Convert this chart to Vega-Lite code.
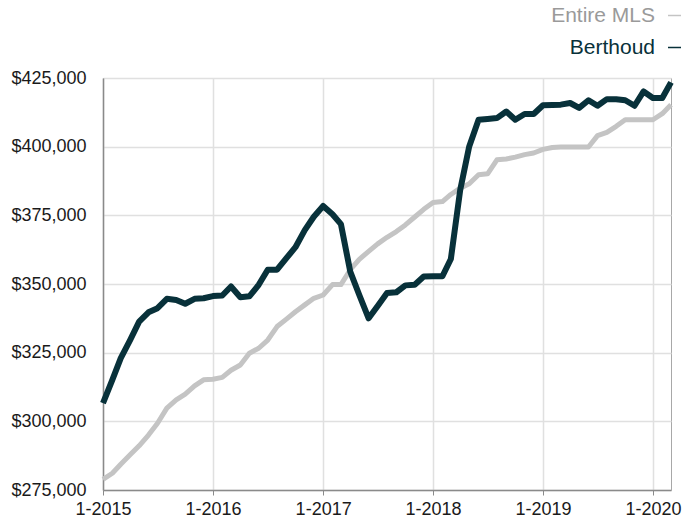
{
  "$schema": "https://vega.github.io/schema/vega-lite/v6.json",
  "width": 568,
  "height": 412,
  "autosize": {"type": "none"},
  "padding": {"left": 103, "top": 78, "right": 16, "bottom": 33},
  "background": "white",
  "config": {
    "font": "Liberation Sans",
    "view": {"stroke": "#a8a8a8", "strokeWidth": 1},
    "axis": {
      "labelFont": "Liberation Sans",
      "labelFontSize": 18,
      "labelColor": "#1a1a1a",
      "gridColor": "#e0e0e0",
      "gridWidth": 1.5,
      "domainColor": "#8a8a8a",
      "domainWidth": 1.5,
      "tickColor": "#8a8a8a",
      "title": null
    }
  },
  "data": {
    "values": [
      {"month": "2015-01-01", "berthoud": 306600, "mls": 278900},
      {"month": "2015-02-01", "berthoud": 315100, "mls": 281100},
      {"month": "2015-03-01", "berthoud": 323000, "mls": 284400},
      {"month": "2015-04-01", "berthoud": 329600, "mls": 287800},
      {"month": "2015-05-01", "berthoud": 336300, "mls": 291100},
      {"month": "2015-06-01", "berthoud": 339700, "mls": 295000},
      {"month": "2015-07-01", "berthoud": 341200, "mls": 299300},
      {"month": "2015-08-01", "berthoud": 344600, "mls": 304800},
      {"month": "2015-09-01", "berthoud": 344200, "mls": 307800},
      {"month": "2015-10-01", "berthoud": 342800, "mls": 309900},
      {"month": "2015-11-01", "berthoud": 344600, "mls": 312900},
      {"month": "2015-12-01", "berthoud": 344800, "mls": 315100},
      {"month": "2016-01-01", "berthoud": 345600, "mls": 315300},
      {"month": "2016-02-01", "berthoud": 345800, "mls": 316000},
      {"month": "2016-03-01", "berthoud": 349100, "mls": 318600},
      {"month": "2016-04-01", "berthoud": 345200, "mls": 320500},
      {"month": "2016-05-01", "berthoud": 345500, "mls": 324800},
      {"month": "2016-06-01", "berthoud": 349700, "mls": 326600},
      {"month": "2016-07-01", "berthoud": 355200, "mls": 329600},
      {"month": "2016-08-01", "berthoud": 355200, "mls": 334500},
      {"month": "2016-09-01", "berthoud": 359400, "mls": 337200},
      {"month": "2016-10-01", "berthoud": 363400, "mls": 339900},
      {"month": "2016-11-01", "berthoud": 369600, "mls": 342400},
      {"month": "2016-12-01", "berthoud": 374500, "mls": 344800},
      {"month": "2017-01-01", "berthoud": 378400, "mls": 346000},
      {"month": "2017-02-01", "berthoud": 375400, "mls": 349800},
      {"month": "2017-03-01", "berthoud": 371800, "mls": 349800},
      {"month": "2017-04-01", "berthoud": 354500, "mls": 355200},
      {"month": "2017-05-01", "berthoud": 346000, "mls": 359000},
      {"month": "2017-06-01", "berthoud": 337500, "mls": 361900},
      {"month": "2017-07-01", "berthoud": 342000, "mls": 364600},
      {"month": "2017-08-01", "berthoud": 346700, "mls": 367000},
      {"month": "2017-09-01", "berthoud": 347000, "mls": 369100},
      {"month": "2017-10-01", "berthoud": 349500, "mls": 371500},
      {"month": "2017-11-01", "berthoud": 349700, "mls": 374400},
      {"month": "2017-12-01", "berthoud": 352700, "mls": 377200},
      {"month": "2018-01-01", "berthoud": 352800, "mls": 379700},
      {"month": "2018-02-01", "berthoud": 352800, "mls": 380000},
      {"month": "2018-03-01", "berthoud": 359100, "mls": 382600},
      {"month": "2018-04-01", "berthoud": 384200, "mls": 384900},
      {"month": "2018-05-01", "berthoud": 400100, "mls": 386500},
      {"month": "2018-06-01", "berthoud": 409800, "mls": 389800},
      {"month": "2018-07-01", "berthoud": 410100, "mls": 390100},
      {"month": "2018-08-01", "berthoud": 410400, "mls": 395200},
      {"month": "2018-09-01", "berthoud": 412800, "mls": 395500},
      {"month": "2018-10-01", "berthoud": 409800, "mls": 396200},
      {"month": "2018-11-01", "berthoud": 411900, "mls": 397100},
      {"month": "2018-12-01", "berthoud": 411900, "mls": 397700},
      {"month": "2019-01-01", "berthoud": 415100, "mls": 399000},
      {"month": "2019-02-01", "berthoud": 415200, "mls": 399700},
      {"month": "2019-03-01", "berthoud": 415300, "mls": 399900},
      {"month": "2019-04-01", "berthoud": 415900, "mls": 399900},
      {"month": "2019-05-01", "berthoud": 414100, "mls": 399900},
      {"month": "2019-06-01", "berthoud": 416900, "mls": 399900},
      {"month": "2019-07-01", "berthoud": 414900, "mls": 404000},
      {"month": "2019-08-01", "berthoud": 417300, "mls": 405200},
      {"month": "2019-09-01", "berthoud": 417300, "mls": 407400},
      {"month": "2019-10-01", "berthoud": 416900, "mls": 409800},
      {"month": "2019-11-01", "berthoud": 414900, "mls": 409800},
      {"month": "2019-12-01", "berthoud": 420100, "mls": 409800},
      {"month": "2020-01-01", "berthoud": 417700, "mls": 409800},
      {"month": "2020-02-01", "berthoud": 417700, "mls": 412000},
      {"month": "2020-03-01", "berthoud": 423400, "mls": 415300}
    ]
  },
  "encoding": {
    "x": {
      "field": "month",
      "type": "temporal",
      "scale": {
        "type": "utc",
        "domain": [
          {"year": 2015, "month": 1, "date": 1, "utc": true},
          {"year": 2020, "month": 3, "date": 1, "utc": true}
        ]
      },
      "axis": {
        "values": [
          {"year": 2015, "month": 1, "date": 1, "utc": true},
          {"year": 2016, "month": 1, "date": 1, "utc": true},
          {"year": 2017, "month": 1, "date": 1, "utc": true},
          {"year": 2018, "month": 1, "date": 1, "utc": true},
          {"year": 2019, "month": 1, "date": 1, "utc": true},
          {"year": 2020, "month": 1, "date": 1, "utc": true}
        ],
        "labelExpr": "(utcmonth(datum.value) + 1) + '-' + utcyear(datum.value)",
        "tickSize": 5,
        "labelPadding": 5,
        "labelAngle": 0,
        "labelFlush": false,
        "labelOverlap": false,
        "grid": true
      }
    }
  },
  "layer": [
    {
      "mark": {"type": "line", "strokeWidth": 5, "strokeJoin": "round"},
      "encoding": {
        "y": {
          "field": "mls",
          "type": "quantitative",
          "scale": {"domain": [275000, 425000], "zero": false, "nice": false},
          "axis": {
            "values": [275000, 300000, 325000, 350000, 375000, 400000, 425000],
            "format": "$,.0f",
            "ticks": false,
            "labelPadding": 17,
            "grid": true
          }
        },
        "color": {
          "datum": "Entire MLS",
          "type": "nominal",
          "scale": {"domain": ["Entire MLS", "Berthoud"], "range": ["#c4c4c4", "#08313a"]},
          "legend": {
            "title": null,
            "orient": "none",
            "legendX": 561,
            "legendY": -73,
            "direction": "vertical",
            "symbolType": "stroke",
            "symbolSize": 169,
            "symbolStrokeWidth": 1.5,
            "labelAlign": "right",
            "labelOffset": -30,
            "labelFont": "Liberation Sans",
            "labelFontSize": 21,
            "rowPadding": 10,
            "padding": 0,
            "encode": {
              "labels": {
                "update": {
                  "fill": {"signal": "datum.value === 'Berthoud' ? '#08313a' : '#9a9a9a'"}
                }
              }
            }
          }
        }
      }
    },
    {
      "mark": {"type": "line", "strokeWidth": 6, "strokeJoin": "round"},
      "encoding": {
        "y": {"field": "berthoud", "type": "quantitative"},
        "color": {"datum": "Berthoud", "type": "nominal"}
      }
    }
  ]
}
